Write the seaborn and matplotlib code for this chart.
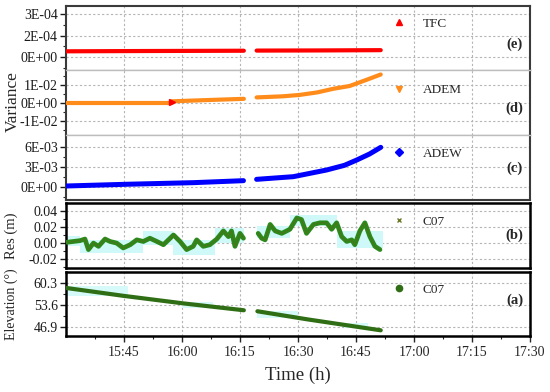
import numpy as np
import pandas as pd
import seaborn as sns
import matplotlib.pyplot as plt
from matplotlib.lines import Line2D
from matplotlib.ticker import FixedLocator, FuncFormatter

# time axis: minutes after 15:30, gap in the record around 16:16-16:19
tfc_t1 = [0, 20, 46]
tfc_v1 = [4.1e-5, 4.3e-5, 4.5e-5]
tfc_t2 = [49.3, 65, 81.4]
tfc_v2 = [4.6e-5, 4.7e-5, 4.9e-5]

adem_t0 = [0, 27.3]
adem_v0 = [0.0, 0.0]
adem_t1 = [27.3, 35, 46]
adem_v1 = [0.0010, 0.0016, 0.0024]
adem_t2 = [49.3, 56, 60.5, 65, 69.1, 73.4, 77.7, 81.4]
adem_v2 = [0.0032, 0.0038, 0.0046, 0.0060, 0.0080, 0.0096, 0.0130, 0.0160]

adew_t1 = [0, 15.7, 32.9, 45.9]
adew_v1 = [0.0001, 0.00036, 0.0006, 0.0009]
adew_t2 = [49.3, 58.8, 67.4, 72, 75.2, 78.5, 81.4]
adew_v2 = [0.0011, 0.0015, 0.0025, 0.0032, 0.0040, 0.0049, 0.0059]

res_t1 = [0.2, 1.9, 3.6, 4.9, 5.8, 7.1, 8.4, 10.1, 11.4, 13.1, 14.8, 16.6, 18.3, 20.0,
          21.7, 23.5, 25.2, 27.8, 29.5, 31.2, 32.9, 33.8, 35.5, 37.2, 39.0, 40.7, 42.0,
          42.8, 43.7, 45.0, 45.9]
res_v1 = [0.001, 0.002, 0.003, 0.005, -0.008, 0.0, -0.004, 0.005, 0.002, 0.0, -0.006,
          -0.002, 0.004, 0.002, 0.006, 0.002, -0.002, 0.010, 0.002, -0.008, -0.004, 0.004,
          -0.004, -0.002, 0.005, 0.015, 0.008, 0.015, -0.004, 0.012, 0.006]
res_t2 = [49.7, 50.6, 51.5, 52.8, 54.1, 55.8, 57.9, 59.7, 60.9, 62.2, 64.0, 65.7, 67.4,
          68.7, 70.0, 71.3, 72.6, 73.9, 74.7, 76.0, 77.3, 78.6, 79.9, 81.2]
res_v2 = [0.012, 0.006, 0.004, 0.023, 0.015, 0.012, 0.017, 0.031, 0.029, 0.012, 0.023,
          0.025, 0.025, 0.017, 0.025, 0.008, 0.002, 0.004, -0.002, 0.015, 0.025, 0.008,
          -0.004, -0.008]

elev_t1 = [0, 14.8, 30.3, 46]
elev_v1 = [58.7, 56.3, 54.0, 51.9]
elev_t2 = [49.5, 62.6, 81.4]
elev_v2 = [51.6, 49.1, 45.8]

# light cyan shaded blocks (start, end, low, high)
res_bands = [(0, 3.6, -0.004, 0.009), (3.6, 20, -0.0125, 0.004), (20, 27.8, -0.002, 0.0146),
             (27.8, 38.5, -0.0146, 0.004), (38.5, 46, 0.0, 0.019), (49.5, 58, 0.006, 0.021),
             (58, 70, 0.021, 0.035), (70, 82, -0.006, 0.015)]
elev_bands = [(0, 16, 56.3, 59.3), (30, 38, 52.5, 54.5), (49.5, 60, 49.6, 51.6), (72, 78, 46.5, 48.0)]

tick_min = list(range(15, 121, 15))


def seg_frame(*parts):
    frames = []
    for i, (t, v) in enumerate(parts):
        frames.append(pd.DataFrame({'t': t, 'v': v, 'seg': i}))
    return pd.concat(frames, ignore_index=True)


def hhmm(x, pos):
    m = int(round(x)) + 15 * 60 + 30
    return f"{m // 60}:{m % 60:02d}"


sns.set_style("ticks")
plt.rcParams['font.family'] = ['Liberation Serif', 'DejaVu Serif']
plt.rcParams['lines.solid_capstyle'] = 'round'
plt.rcParams['lines.solid_joinstyle'] = 'round'

fig = plt.figure(figsize=(5.5, 3.92), dpi=100)
L, W = 0.12, 0.8436
ax_e = fig.add_axes([L, 0.8214, W, 0.1633])
ax_d = fig.add_axes([L, 0.6556, W, 0.1658], sharex=ax_e)
ax_c = fig.add_axes([L, 0.4898, W, 0.1658], sharex=ax_e)
ax_b = fig.add_axes([L, 0.3163, W, 0.1658], sharex=ax_e)
ax_a = fig.add_axes([L, 0.1429, W, 0.1633], sharex=ax_e)

dark = '#3a3a3a'
light = '#bdbdbd'

# shaded blocks
for t0, t1, lo, hi in res_bands:
    ax_b.fill_between([t0, t1], lo, hi, color='#cff8f8', lw=0, zorder=1)
for t0, t1, lo, hi in elev_bands:
    ax_a.fill_between([t0, t1], lo, hi, color='#d6fafa', lw=0, zorder=1)

kw = dict(x='t', y='v', units='seg', estimator=None, legend=False, zorder=3)
sns.lineplot(data=seg_frame((tfc_t1, tfc_v1), (tfc_t2, tfc_v2)), ax=ax_e,
             color='#ff0000', lw=3, **kw)
sns.lineplot(data=seg_frame((adem_t0, adem_v0), (adem_t1, adem_v1), (adem_t2, adem_v2)), ax=ax_d,
             color='#ff8c1a', lw=3, **kw)
ax_d.plot([27.3], [0.0007], marker='>', color='#ff0000', ms=4, zorder=4)
sns.lineplot(data=seg_frame((adew_t1, adew_v1), (adew_t2, adew_v2)), ax=ax_c,
             color='#0000ff', lw=3.6, **kw)
res_df = seg_frame((res_t1, res_v1), (res_t2, res_v2))
sns.lineplot(data=res_df, ax=ax_b, color='#2b8a1c', lw=3.4, **kw)
sns.lineplot(data=res_df, ax=ax_b, color='#5b6a1a', lw=0.7, alpha=0.7, **kw)
sns.lineplot(data=seg_frame((elev_t1, elev_v1), (elev_t2, elev_v2)), ax=ax_a,
             color='#2f6e14', lw=3, **kw)

# axis limits and ticks
ax_e.set_ylim(-0.886e-4, 3.55e-4)
ax_e.set_yticks([0, 1.5e-4, 3e-4], ['0E+00', '2E-04', '3E-04'])
ax_e.yaxis.set_minor_locator(FixedLocator([-0.75e-4, 0.75e-4, 2.25e-4]))
ax_d.set_ylim(-0.0178, 0.0185)
ax_d.set_yticks([-0.01, 0, 0.01], ['-1E-02', '0E+00', '1E-02'])
ax_d.yaxis.set_minor_locator(FixedLocator([-0.015, -0.005, 0.005, 0.015]))
ax_c.set_ylim(-2.0e-3, 7.75e-3)
ax_c.set_yticks([0, 3e-3, 6e-3], ['0E+00', '3E-03', '6E-03'])
ax_c.yaxis.set_minor_locator(FixedLocator([-1.5e-3, 1.5e-3, 4.5e-3]))
ax_b.set_ylim(-0.0307, 0.0494)
ax_b.set_yticks([-0.02, 0, 0.02, 0.04], ['-0.02', '0.00', '0.02', '0.04'])
ax_b.yaxis.set_minor_locator(FixedLocator([-0.03, -0.01, 0.01, 0.03]))
ax_a.set_ylim(44.07, 63.56)
ax_a.set_yticks([46.9, 53.6, 60.3], ['46.9', '53.6', '60.3'])
ax_a.yaxis.set_minor_locator(FixedLocator([50.25, 56.95]))

ax_a.set_xlim(0, 120)
ax_a.set_xticks(tick_min)
ax_a.xaxis.set_minor_locator(FixedLocator([7.5 + 15 * k for k in range(8)]))
ax_a.xaxis.set_major_formatter(FuncFormatter(hhmm))

for ax in [ax_e, ax_d, ax_c, ax_b, ax_a]:
    ax.set_xlabel('')
    ax.set_ylabel('')
    ax.grid(True, which='major', ls=(0, (2, 2)), color='#b5b5b5', lw=0.8)
    ax.set_axisbelow(True)
    ax.tick_params(axis='y', which='major', direction='out', length=4, width=1,
                   labelsize=10, pad=2, colors='#1a1a1a')
    ax.tick_params(axis='y', which='minor', direction='out', length=2.5, width=0.8)
    if ax is not ax_a:
        ax.tick_params(axis='x', which='both', bottom=False, labelbottom=False)
    for s in ax.spines.values():
        s.set_color(dark)
        s.set_linewidth(1.5)

ax_a.tick_params(axis='x', which='major', direction='out', length=4, width=1, labelsize=10)
ax_a.tick_params(axis='x', which='minor', direction='out', length=2.5, width=0.8)
for ax in [ax_b, ax_a]:
    for s in ax.spines.values():
        s.set_color('black')
        s.set_linewidth(1.8)

ax_e.spines['bottom'].set(color=light, lw=1)
ax_d.spines['top'].set(color=light, lw=1)
ax_d.spines['bottom'].set(color=light, lw=1)
ax_c.spines['top'].set(color=light, lw=1)

# legends and panel tags
entries = [
    (ax_e, '^', '#ff0000', 4.5, 'TFC', 0.72, '(e)', 0.41),
    (ax_d, 'v', '#ff8c1a', 4.5, 'ADEM', 0.69, '(d)', 0.415),
    (ax_c, 'D', '#0000ff', 3.8, 'ADEW', 0.71, '(c)', 0.49),
    (ax_b, 'x', '#6b7a2a', 3, 'C07', 0.71, '(b)', 0.51),
    (ax_a, 'o', '#2f6e14', 4.5, 'C07', 0.72, '(a)', 0.56),
]
for ax, mk, col, ms, name, ly, tag, ty in entries:
    h = Line2D([], [], ls='none', marker=mk, color=col, ms=ms)
    ax.legend([h], [name], loc='center left', bbox_to_anchor=(0.704, ly), frameon=False,
              handlelength=1.0, handletextpad=1.3, borderpad=0, borderaxespad=0,
              fontsize=9.5)
    ax.text(0.985, ty, tag, transform=ax.transAxes, ha='right', va='center',
            fontsize=10.5, fontweight='bold')

fig.text(12.5 / 550, 1 - 102 / 392, 'Variance', rotation=90, ha='center', va='center', fontsize=12.5)
ax_b.set_ylabel('Res (m)', fontsize=10.5)
ax_b.yaxis.set_label_coords(-0.104, 0.5)
ax_a.set_ylabel('Elevation (°)', fontsize=10)
ax_a.yaxis.set_label_coords(-0.104, 0.5)
ax_a.set_xlabel('Time (h)', fontsize=13.5, labelpad=5)

fig.savefig('out.png', dpi=100)
